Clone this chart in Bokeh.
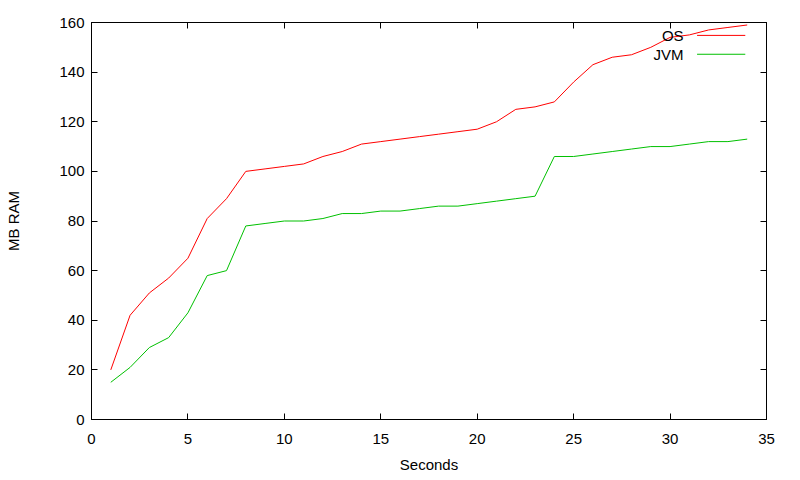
from bokeh.plotting import figure
from bokeh.models import Range1d, LinearAxis, FixedTicker, Label, Arrow, CustomJSTickFormatter
from bokeh.embed import file_html
from bokeh.resources import INLINE

# ---- data ----
seconds = list(range(1, 35))
os_mb = [20, 42, 51, 57, 65, 81, 89, 100, 101, 102, 103, 106, 108, 111, 112, 113, 114,
         115, 116, 117, 120, 125, 126, 128, 136, 143, 146, 147, 150, 154, 155, 157, 158, 159]
jvm_mb = [15, 21, 29, 33, 43, 58, 60, 78, 79, 80, 80, 81, 83, 83, 84, 84, 85,
          86, 86, 87, 88, 89, 90, 106, 106, 107, 108, 109, 110, 110, 111, 112, 112, 113]
x_ticks = [0, 5, 10, 15, 20, 25, 30, 35]
y_ticks = [0, 20, 40, 60, 80, 100, 120, 140, 160]
series_names = ["OS", "JVM"]
series_colors = ["#ff0000", "#00c000"]

FONT = "Liberation Sans"
FS = "15px"

p = figure(width=792, height=476, output_backend="svg", toolbar_location=None,
           x_range=Range1d(x_ticks[0], x_ticks[-1]), y_range=Range1d(y_ticks[0], y_ticks[-1]),
           min_border_left=91, min_border_right=26, min_border_top=22, min_border_bottom=57,
           x_axis_label="Seconds", y_axis_label="MB RAM")
p.xgrid.visible = False
p.ygrid.visible = False
p.outline_line_color = "black"
p.outline_line_width = 1
p.background_fill_color = "white"
p.border_fill_color = "white"

def style_axis(ax, ticks, show_labels=True):
    ax.ticker = FixedTicker(ticks=ticks)
    ax.major_tick_in = 6
    ax.major_tick_out = 0
    ax.minor_tick_line_color = None
    ax.axis_line_color = "black"
    ax.major_tick_line_color = "black"
    ax.major_label_text_font = FONT
    ax.major_label_text_color = "black"
    ax.major_label_text_font_size = FS
    ax.axis_label_text_font = FONT
    ax.axis_label_text_font_style = "normal"
    ax.axis_label_text_color = "black"
    ax.axis_label_text_font_size = FS
    if not show_labels:
        ax.formatter = CustomJSTickFormatter(code="return '';")
        ax.major_label_standoff = 0

xa = p.xaxis[0]
ya = p.yaxis[0]
style_axis(xa, x_ticks)
style_axis(ya, y_ticks)
xa.major_label_standoff = 14
xa.axis_label_standoff = 9
ya.major_label_standoff = 7
ya.axis_label_standoff = 34

top_ax = LinearAxis()
style_axis(top_ax, x_ticks, show_labels=False)
p.add_layout(top_ax, "above")
right_ax = LinearAxis()
style_axis(right_ax, y_ticks, show_labels=False)
p.add_layout(right_ax, "right")

p.line(seconds, os_mb, line_color=series_colors[0], line_width=1)
p.line(seconds, jvm_mb, line_color=series_colors[1], line_width=1)

# gnuplot-style key: text then line sample
key_text_x = 30.7
key_line_x0 = 31.4
key_line_x1 = 33.9
key_rows_y = [154.8, 147.2]
for name, color, ky in zip(series_names, series_colors, key_rows_y):
    p.add_layout(Label(x=key_text_x, y=ky, text=name, text_align="right",
                       text_baseline="middle", text_font=FONT, text_font_size=FS,
                       text_color="black"))
    p.add_layout(Arrow(x_start=key_line_x0, y_start=ky, x_end=key_line_x1, y_end=ky,
                       start=None, end=None, line_color=color, line_width=1))

open("out.html", "w").write(file_html(p, INLINE))
